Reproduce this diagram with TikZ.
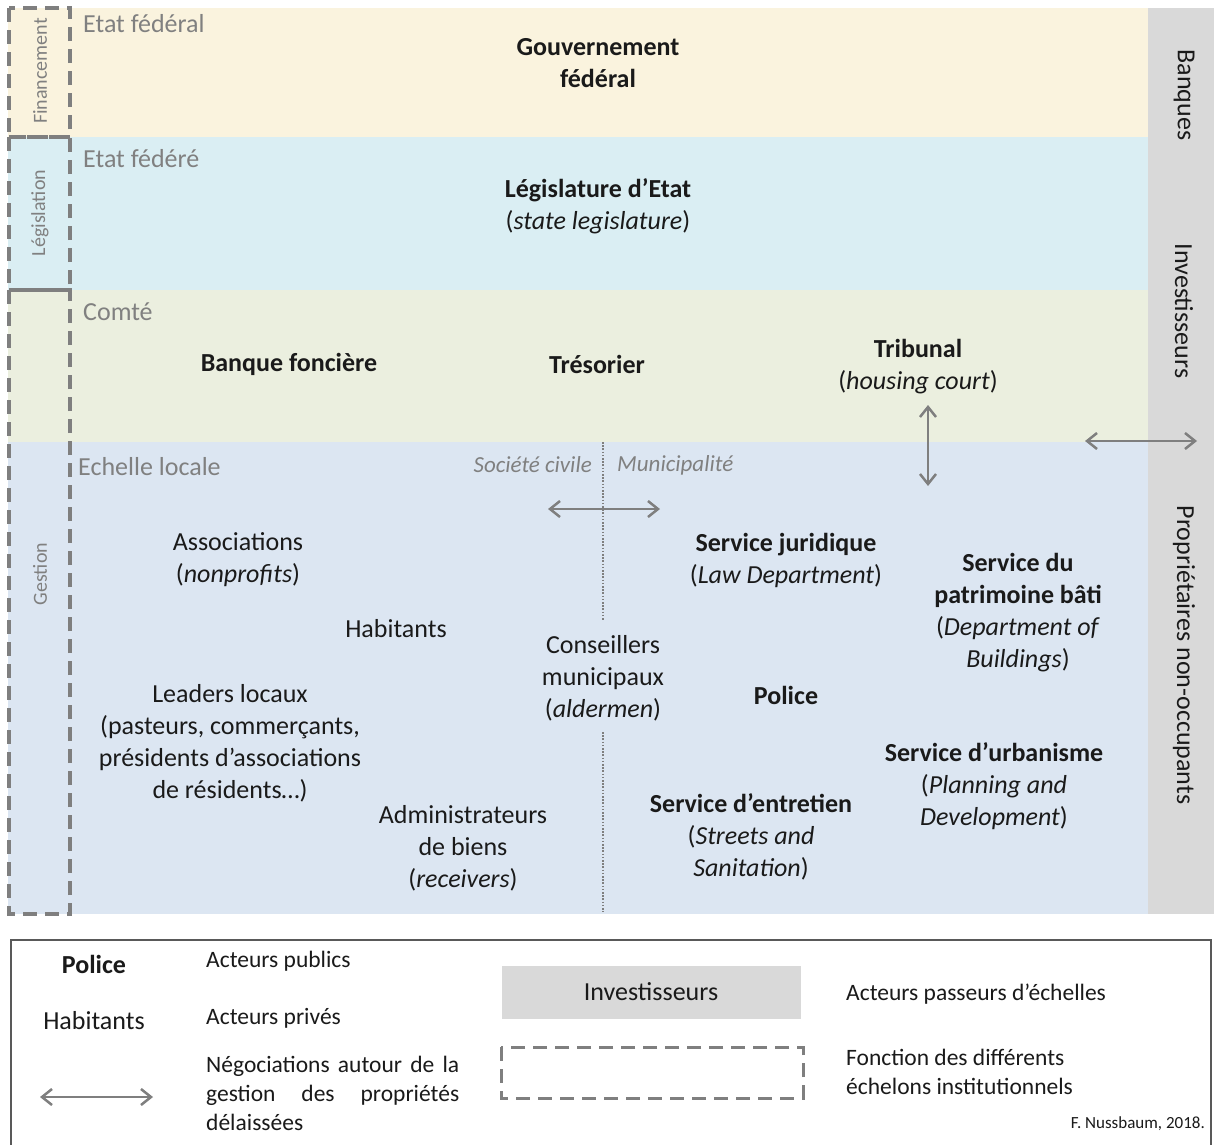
\documentclass[tikz,border=0pt]{standalone}
\usepackage{fontspec}
\setmainfont{Carlito}
\usetikzlibrary{arrows.meta}
\definecolor{bandA}{HTML}{FAF3DE}
\definecolor{bandB}{HTML}{DAEEF3}
\definecolor{bandC}{HTML}{EBEFDF}
\definecolor{bandD}{HTML}{DCE6F2}
\definecolor{sidegrey}{HTML}{D9D9D9}
\definecolor{txtgrey}{HTML}{808080}
\definecolor{linegrey}{HTML}{7F7F7F}
\definecolor{txtmain}{HTML}{1A1A1A}
\tikzset{
  actor/.style={align=center, text=txtmain, font=\fontsize{26}{32}\selectfont, inner sep=0pt},
  lvl/.style={anchor=west, text=txtgrey, font=\fontsize{26}{30}\selectfont, inner sep=0pt},
  func/.style={text=txtgrey, font=\fontsize{20}{22}\selectfont, rotate=90, inner sep=0pt},
  side/.style={text=txtmain, font=\fontsize{26}{30}\selectfont, rotate=-90, inner sep=0pt},
  sector/.style={text=txtgrey, font=\fontsize{23}{26}\selectfont\itshape, inner sep=0pt},
  nego/.style={draw=linegrey, line width=2.5pt, {Straight Barb[length=10pt,width=16pt]}-{Straight Barb[length=10pt,width=16pt]}},
  fonctbox/.style={draw=linegrey, line width=3.5pt, dash pattern=on 14pt off 8pt},
  legtext/.style={anchor=west, text=txtmain, font=\fontsize{23.5}{29}\selectfont, inner sep=0pt},
}
\begin{document}
\begin{tikzpicture}[x=1pt,y=-1pt]
\useasboundingbox (0,0) rectangle (1214,1144);
\fill[white] (0,0) rectangle (1214,1144);
% bands
\fill[bandA] (8,8) rectangle (1148,137);
\fill[bandB] (8,137) rectangle (1148,290);
\fill[bandC] (8,290) rectangle (1148,442);
\fill[bandD] (8,442) rectangle (1148,914);
\fill[sidegrey] (1148,8) rectangle (1214,914);
% function boxes
\draw[fonctbox] (9,8) rectangle (70,137);
\draw[fonctbox] (9,137) rectangle (70,290);
\draw[fonctbox] (9,290) rectangle (70,914);
\node[func] (fin) at (40,71) {Financement};
\node[func] (leg) at (40,213) {Législation};
\node[func] (ges) at (40,574) {Gestion};
% level labels
\node[lvl] (l1) at (83,24) {Etat fédéral};
\node[lvl] (l2) at (83,159) {Etat fédéré};
\node[lvl] (l3) at (83,312) {Comté};
\node[lvl] (l4) at (78,467) {Echelle locale};
% side column
\node[side] (banques) at (1184,95) {Banques};
\node[side] (invest) at (1184,311) {Investisseurs};
\node[side] (proprio) at (1184,655) {Propriétaires non-occupants};
% actors
\node[actor] (gouv) at (598,63) {\textbf{Gouvernement}\\\textbf{fédéral}};
\node[actor] (legis) at (598,206) {\textbf{Législature d’Etat}\\(\textit{state legislature})};
\node[actor] (banque) at (289,364) {\textbf{Banque foncière}};
\node[actor] (tresor) at (597,364) {\textbf{Trésorier}};
\node[actor] (tribunal) at (918,367) {\textbf{Tribunal}\\(\textit{housing court})};
\node[sector, anchor=east] (civile) at (592,465) {Société civile};
\node[sector, anchor=west] (munic) at (617,465) {Municipalité};
\node[actor] (assoc) at (238,560) {Associations\\(\textit{nonprofits})};
\node[actor] (habitants) at (396,629) {Habitants};
\node[actor] (leaders) at (230,743) {Leaders locaux\\(pasteurs, commerçants,\\présidents d’associations\\de résidents…)};
\node[actor] (conseil) at (603,678) {Conseillers\\municipaux\\(\textit{aldermen})};
\node[actor] (admin) at (463,848) {Administrateurs\\de biens\\(\textit{receivers})};
\node[actor] (juridique) at (786,560) {\textbf{Service juridique}\\(\textit{Law Department})};
\node[actor] (police) at (786,695) {\textbf{Police}};
\node[actor] (entretien) at (751,837) {\textbf{Service d’entretien}\\(\textit{Streets and}\\\textit{Sanitation})};
\node[actor] (patrim) at (1018,613) {\textbf{Service du}\\\textbf{patrimoine bâti}\\(\textit{Department of}\\\textit{Buildings})};
\node[actor] (urba) at (994,786) {\textbf{Service d’urbanisme}\\(\textit{Planning and}\\\textit{Development})};
% dotted separator
\coordinate (d1) at (603,442);
\coordinate (d2) at (603,620);
\coordinate (d3) at (603,732);
\coordinate (d4) at (603,912);
\draw[linegrey, line width=1.6pt, dash pattern=on 1.6pt off 1.6pt] (d1) -- (d2);
\draw[linegrey, line width=1.6pt, dash pattern=on 1.6pt off 1.6pt] (d3) -- (d4);
% negotiation arrows
\coordinate (n1a) at (548,509); \coordinate (n1b) at (660,509);
\draw[nego] (n1a) -- (n1b);
\coordinate (n2a) at (928,405); \coordinate (n2b) at (928,486);
\draw[nego] (n2a) -- (n2b);
\coordinate (n3a) at (1085,441); \coordinate (n3b) at (1197,441);
\draw[nego] (n3a) -- (n3b);
% legend
\draw[draw=black!65, line width=1.5pt] (11,1150) -- (11,940) -- (1211,940) -- (1211,1150);
\node[actor] (lpolice) at (94,964) {\textbf{Police}};
\node[legtext] (lpub) at (206,961) {Acteurs publics};
\node[actor] (lhab) at (94,1021) {Habitants};
\node[legtext] (lpriv) at (206,1018) {Acteurs privés};
\coordinate (lna) at (40,1097); \coordinate (lnb) at (153,1097);
\draw[nego] (lna) -- (lnb);
\node[legtext, align=left] (lnego) at (206,1093) {\makebox[253pt][l]{Négociations\hfill autour\hfill de\hfill la}\\\makebox[253pt][l]{gestion\hfill des\hfill propriétés}\\délaissées};
\node[fill=sidegrey, minimum width=299pt, minimum height=53pt, inner sep=0pt, font=\fontsize{26}{30}\selectfont, text=txtmain] (linv) at (651,992) {Investisseurs};
\node[legtext] (lpass) at (846,994) {Acteurs passeurs d’échelles};
\draw[fonctbox, line width=3pt] (501,1047) rectangle (803,1098);
\node[legtext, align=left] (lfonct) at (846,1072) {Fonction des différents\\échelons institutionnels};
\node[anchor=east, text=txtmain, font=\fontsize{17}{20}\selectfont, inner sep=0pt] (credit) at (1205,1124) {F. Nussbaum, 2018.};
\end{tikzpicture}
\end{document}
